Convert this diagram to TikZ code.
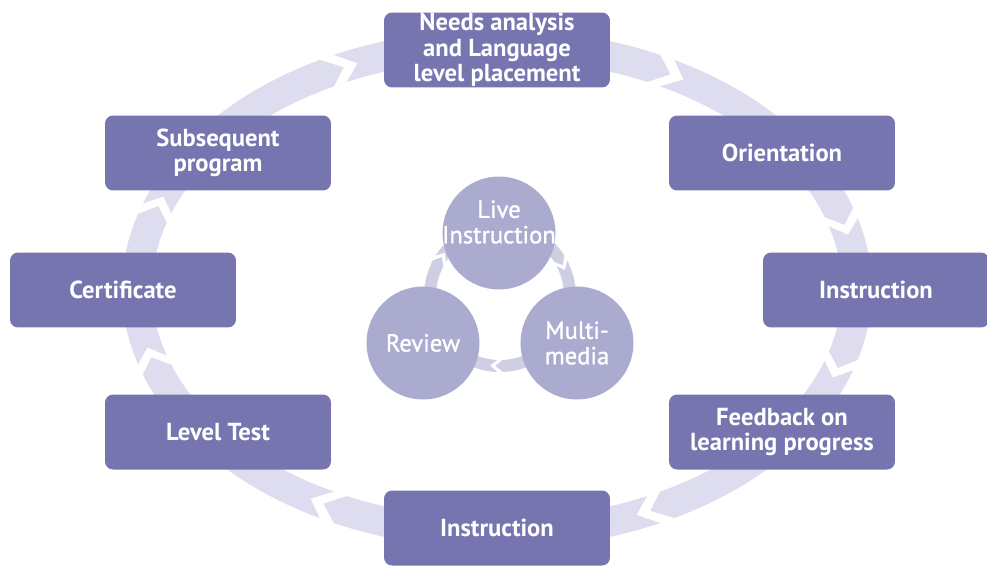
\documentclass[tikz,border=0pt]{standalone}
\usepackage{fontspec}
\setmainfont{PT Sans}
\newfontface\bubblefont{PT Sans}[FakeBold=1.2]
\definecolor{boxfill}{RGB}{118,117,176}
\definecolor{ringfill}{RGB}{221,221,239}
\definecolor{bubblefill}{RGB}{170,171,207}
\definecolor{innerring}{RGB}{206,206,229}
\tikzset{
  stage/.style={fill=boxfill, rounded corners=0.16cm, minimum width=4.52cm,
    minimum height=1.5cm, inner sep=0pt, align=center, text=white,
    font=\bfseries\fontsize{14}{14.5}\selectfont},
  bubble/.style={circle, fill=bubblefill, minimum size=2.26cm, inner sep=0pt},
  bubbletext/.style={align=center, text=white, inner sep=0pt,
    font=\bubblefont\fontsize{14}{14.5}\selectfont}
}
\begin{document}
\begin{tikzpicture}[x=0.02cm, y=-0.02cm]
    \useasboundingbox (0,0) rectangle (987,565);
    % outer cycle of chevrons
    \foreach \g/\h [evaluate=\g as \a using \g+1.2, evaluate=\h as \b using \h-1.2] in
        {243/297, 297/343, 343/377, 377/423, 423/477, 477/522, 522/558, 558/603}
        \fill[ringfill] plot[domain=\a:\b, samples=30] ({497+375*cos(\x)},{289+260*sin(\x)})
            -- ({497+360*cos(\b+3)},{289+245*sin(\b+3)})
            -- plot[domain=\b:\a, samples=30] ({497+345*cos(\x)},{289+230*sin(\x)})
            -- ({497+360*cos(\a+3)},{289+245*sin(\a+3)}) -- cycle;
    % inner cycle
    \foreach \g/\h [evaluate=\g as \a using \g+2.2, evaluate=\h as \b using \h-2.2] in
        {210/330, 330/450, 450/570}
        \fill[innerring] plot[domain=\a:\b, samples=30] ({500+76*cos(\x)},{296+76*sin(\x)})
            -- ({500+70*cos(\b+6)},{296+70*sin(\b+6)})
            -- plot[domain=\b:\a, samples=30] ({500+64*cos(\x)},{296+64*sin(\x)})
            -- ({500+70*cos(\a+6)},{296+70*sin(\a+6)}) -- cycle;

    \node[stage] (needs) at (497,50) {Needs analysis\\and Language\\level placement};
    \node[stage] (orient) at (782,153) {Orientation};
    \node[stage] (instrR) at (876,290) {Instruction};
    \node[stage] (feedback) at (782,432) {Feedback on\\learning progress};
    \node[stage] (instrB) at (497,528) {Instruction};
    \node[stage] (level) at (218,432) {Level Test};
    \node[stage] (cert) at (123,290) {Certificate};
    \node[stage] (subseq) at (218,153) {Subsequent\\program};

    \node[bubble] (live) at (499,233) {};
    \node[bubble] (multi) at (577,343) {};
    \node[bubble] (review) at (423,343) {};
    \node[bubbletext] (livetext) at (499,222) {Live\\Instruction};
    \node[bubbletext] (multitext) at (multi) {Multi-\\media};
    \node[bubbletext] (reviewtext) at (review) {Review};
\end{tikzpicture}
\end{document}
